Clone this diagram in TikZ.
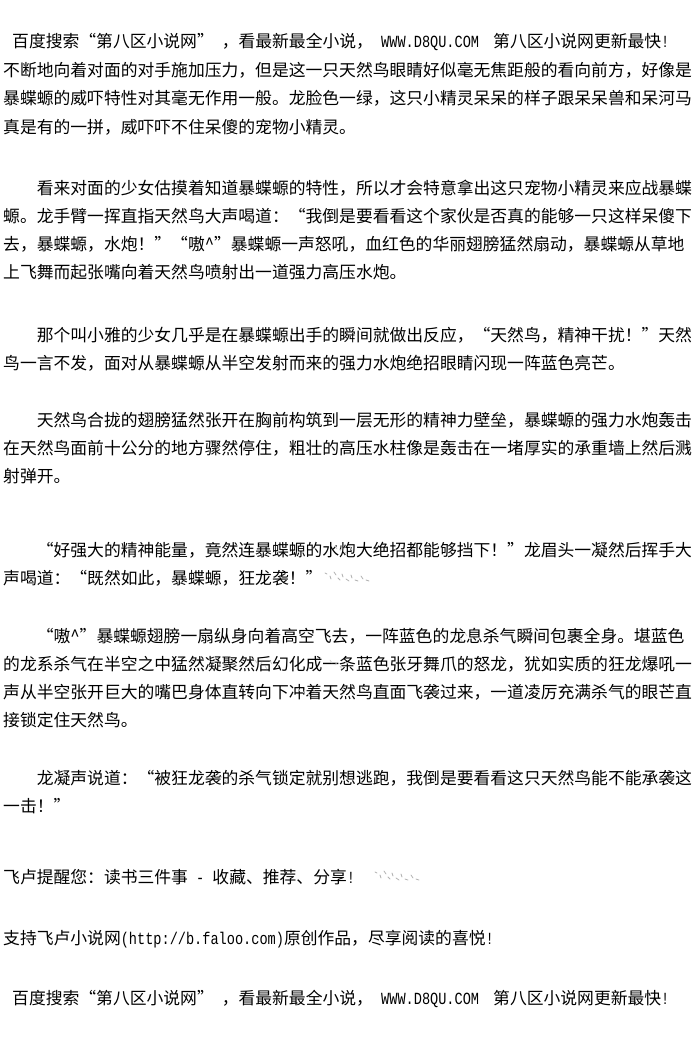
\documentclass[tikz,border=0pt]{standalone}
\usepackage{fontspec}
\setmainfont{Noto Sans CJK SC}
\newfontfamily\latinmono[FakeStretch=0.8]{Liberation Mono}
\XeTeXlinebreaklocale "zh"
\XeTeXlinebreakskip=0pt plus 3pt minus 1pt
\newcommand{\mono}[1]{{\latinmono\fontsize{17pt}{19pt}\selectfont #1}}
\newcommand{\oq}{\makebox[16.8pt][r]{“}}
\newcommand{\cq}{\makebox[16.8pt][l]{”}}
\newcommand{\fullline}[1]{\hbox to 672pt{#1}}
\newcommand{\indline}[1]{\hbox to 638.4pt{#1}}
\tikzset{
  txt/.style={anchor=base west, inner sep=0pt, text=black,
    font=\fontsize{16.8pt}{20pt}\selectfont},
  noise/.style={draw=black!30, line width=0.8pt, line cap=round},
  faint/.style={draw=black!18, line width=0.7pt, line cap=round},
}
\newcommand{\noisepatch}[2]{%
  \begin{scope}[shift={(#1pt,-#2pt)}]
    \draw[noise] (0pt,0pt) -- (2pt,-1pt);
    \draw[noise] (5pt,-3pt) -- (6pt,-6pt);
    \draw[noise] (9pt,1pt) -- (11pt,-2pt);
    \draw[noise] (13pt,-5pt) -- (15pt,-7pt);
    \draw[noise] (17pt,-1pt) -- (18pt,-4pt);
    \draw[noise] (21pt,-6pt) -- (24pt,-8pt);
    \draw[noise] (26pt,-2pt) -- (27pt,-5pt);
    \draw[noise] (30pt,-7pt) -- (33pt,-8pt);
    \draw[noise] (36pt,-3pt) -- (38pt,-6pt);
    \draw[noise] (41pt,-7pt) -- (44pt,-8pt);
  \end{scope}}
\newcommand{\faintpatch}[2]{%
  \begin{scope}[shift={(#1pt,-#2pt)}]
    \draw[faint] (0pt,0pt) -- (2pt,-3pt);
    \draw[faint] (5pt,-5pt) -- (7pt,-2pt);
    \draw[faint] (10pt,-6pt) -- (12pt,-9pt);
    \draw[faint] (15pt,-1pt) -- (17pt,-4pt);
  \end{scope}}
\begin{document}
\begin{tikzpicture}[x=1pt,y=1pt]
\fill[white] (0,0) rectangle (700,-1040);
\useasboundingbox (0,0) rectangle (700,-1040);

\node[txt] (l1a) at (12,-47.4) {百度搜索\oq 第八区小说网\cq\hspace{8pt}，看最新最全小说，};
\node[txt] (l1b) at (381,-47.4) {\mono{WWW.D8QU.COM}};
\node[txt] (l1c) at (493,-47.4) {第八区小说网更新最快\mono{!}};
\node[txt] (l2) at (3,-76.4) {\fullline{不断地向着对面的对手施加压力，但是这一只天然鸟眼睛好似毫无焦距般的看向前方，好像是}};
\node[txt] (l3) at (3,-104.9) {\fullline{暴蝶螈的威吓特性对其毫无作用一般。龙脸色一绿，这只小精灵呆呆的样子跟呆呆兽和呆河马}};
\node[txt] (l4) at (3,-133.4) {真是有的一拼，威吓吓不住呆傻的宠物小精灵。};

\node[txt] (l5) at (36.6,-194.4) {\indline{看来对面的少女估摸着知道暴蝶螈的特性，所以才会特意拿出这只宠物小精灵来应战暴蝶}};
\node[txt] (l6) at (3,-222.4) {\fullline{螈。龙手臂一挥直指天然鸟大声喝道：\oq 我倒是要看看这个家伙是否真的能够一只这样呆傻下}};
\node[txt] (l7) at (3,-250.4) {\fullline{去，暴蝶螈，水炮！\cq\oq 嗷\textasciicircum\cq 暴蝶螈一声怒吼，血红色的华丽翅膀猛然扇动，暴蝶螈从草地}};
\node[txt] (l8) at (3,-278.4) {上飞舞而起张嘴向着天然鸟喷射出一道强力高压水炮。};

\node[txt] (l9) at (36.6,-341.4) {\indline{那个叫小雅的少女几乎是在暴蝶螈出手的瞬间就做出反应，\oq 天然鸟，精神干扰！\cq 天然}};
\node[txt] (l10) at (3,-369.4) {鸟一言不发，面对从暴蝶螈从半空发射而来的强力水炮绝招眼睛闪现一阵蓝色亮芒。};

\node[txt] (l11) at (36.6,-426.4) {\indline{天然鸟合拢的翅膀猛然张开在胸前构筑到一层无形的精神力壁垒，暴蝶螈的强力水炮轰击}};
\node[txt] (l12) at (3,-454.4) {\fullline{在天然鸟面前十公分的地方骤然停住，粗壮的高压水柱像是轰击在一堵厚实的承重墙上然后溅}};
\node[txt] (l13) at (3,-482.4) {射弹开。};

\node[txt] (l14) at (36.6,-556.4) {\indline{\oq 好强大的精神能量，竟然连暴蝶螈的水炮大绝招都能够挡下！\cq 龙眉头一凝然后挥手大}};
\node[txt] (l15) at (3,-584.4) {声喝道：\oq 既然如此，暴蝶螈，狂龙袭！\cq};

\node[txt] (l16) at (36.6,-642.4) {\indline{\oq 嗷\textasciicircum\cq 暴蝶螈翅膀一扇纵身向着高空飞去，一阵蓝色的龙息杀气瞬间包裹全身。堪蓝色}};
\node[txt] (l17) at (3,-670.4) {\fullline{的龙系杀气在半空之中猛然凝聚然后幻化成一条蓝色张牙舞爪的怒龙，犹如实质的狂龙爆吼一}};
\node[txt] (l18) at (3,-698.4) {\fullline{声从半空张开巨大的嘴巴身体直转向下冲着天然鸟直面飞袭过来，一道凌厉充满杀气的眼芒直}};
\node[txt] (l19) at (3,-726.4) {接锁定住天然鸟。};

\node[txt] (l20) at (36.6,-784.4) {\indline{龙凝声说道：\oq 被狂龙袭的杀气锁定就别想逃跑，我倒是要看看这只天然鸟能不能承袭这}};
\node[txt] (l21) at (3,-812.4) {一击！\cq};

\node[txt] (l22) at (3,-883.4) {飞卢提醒您：读书三件事\mono{ - }收藏、推荐、分享\mono{!}};
\node[txt] (l23) at (3,-944.4) {支持飞卢小说网\mono{(http://b.faloo.com)}原创作品，尽享阅读的喜悦\mono{!}};
\node[txt] (l24a) at (12,-1004.4) {百度搜索\oq 第八区小说网\cq\hspace{8pt}，看最新最全小说，};
\node[txt] (l24b) at (381,-1004.4) {\mono{WWW.D8QU.COM}};
\node[txt] (l24c) at (493,-1004.4) {第八区小说网更新最快\mono{!}};

\noisepatch{325}{573}
\noisepatch{375}{872}
\faintpatch{335}{546}
\faintpatch{450}{632}
\faintpatch{255}{660}
\faintpatch{330}{660}
\faintpatch{298}{688}
\faintpatch{215}{774}
\end{tikzpicture}
\end{document}
